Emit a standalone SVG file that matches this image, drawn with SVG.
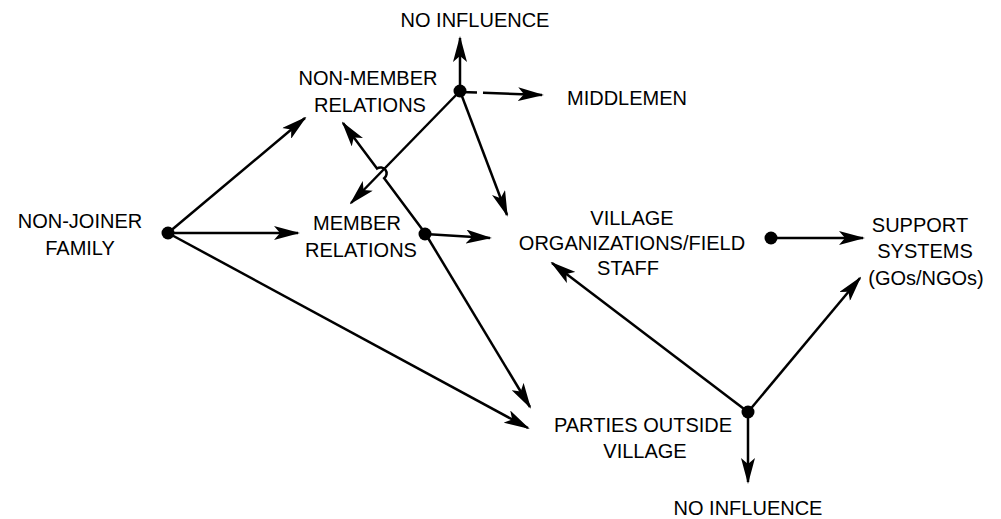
<svg xmlns="http://www.w3.org/2000/svg" width="1001" height="519" viewBox="0 0 1001 519">
  <defs>
    <marker id="arrow" viewBox="0 0 26 14" refX="24" refY="7" markerWidth="26" markerHeight="14" markerUnits="userSpaceOnUse" orient="auto">
      <path d="M0,0 L26,7 L0,14 L6,7 Z" fill="#000"/>
    </marker>
    <style>
      .lbl { font-family: "Liberation Sans", Arial, Helvetica, sans-serif; font-size: 20px; fill: #000; text-anchor: middle; }
      .edge { stroke: #000; stroke-width: 2.5; fill: none; marker-end: url(#arrow); }
      .dot { fill: #000; }
    </style>
  </defs>
  <rect width="1001" height="519" fill="#fff"/>

  <!-- connectors -->
  <g id="connectors">
    <!-- from non-joiner family -->
    <line class="edge" x1="168" y1="233" x2="305" y2="118"/>
    <line class="edge" x1="168" y1="233" x2="298" y2="233"/>
    <line class="edge" x1="168" y1="233" x2="528" y2="428"/>
    <!-- from non-member relations -->
    <line class="edge" x1="460" y1="91" x2="460" y2="38"/>
    <line class="edge" x1="460" y1="92" x2="542" y2="95" stroke-dasharray="17 6 200"/>
    <line class="edge" x1="460" y1="91" x2="351" y2="203"/>
    <line class="edge" x1="460" y1="91" x2="507" y2="215"/>
    <!-- from member relations (hops over the crossing line) -->
    <path class="edge" d="M425,233 L384.2,178.2 A6,6 0 0 0 377,168.6 L343,123"/>
    <line class="edge" x1="425" y1="233" x2="530" y2="407"/>
    <line class="edge" x1="425" y1="234" x2="490" y2="238"/>
    <!-- from village organizations -->
    <line class="edge" x1="771" y1="238" x2="863" y2="238"/>
    <!-- from parties outside village -->
    <line class="edge" x1="748" y1="412" x2="552" y2="263"/>
    <line class="edge" x1="748" y1="412" x2="860" y2="278"/>
    <line class="edge" x1="748" y1="412" x2="748" y2="482"/>
  </g>

  <g id="non-joiner-family">
    <circle class="dot" cx="168" cy="233" r="6.5"/>
    <text class="lbl" x="80" y="228">NON-JOINER</text>
    <text class="lbl" x="80" y="255">FAMILY</text>
  </g>

  <g id="non-member-relations">
    <circle class="dot" cx="460" cy="91" r="6.5"/>
    <text class="lbl" x="368" y="85">NON-MEMBER</text>
    <text class="lbl" x="370" y="112">RELATIONS</text>
  </g>

  <g id="no-influence-top">
    <text class="lbl" x="475" y="27">NO INFLUENCE</text>
  </g>

  <g id="middlemen">
    <text class="lbl" x="567" y="105" style="text-anchor:start">MIDDLEMEN</text>
  </g>

  <g id="member-relations">
    <circle class="dot" cx="425" cy="234" r="6.5"/>
    <text class="lbl" x="357" y="230">MEMBER</text>
    <text class="lbl" x="361" y="257">RELATIONS</text>
  </g>

  <g id="village-organizations">
    <circle class="dot" cx="771" cy="238" r="6.5"/>
    <text class="lbl" x="632" y="225">VILLAGE</text>
    <text class="lbl" x="632" y="250">ORGANIZATIONS/FIELD</text>
    <text class="lbl" x="628" y="275">STAFF</text>
  </g>

  <g id="support-systems">
    <text class="lbl" x="920" y="232">SUPPORT</text>
    <text class="lbl" x="925" y="258">SYSTEMS</text>
    <text class="lbl" x="926" y="285">(GOs/NGOs)</text>
  </g>

  <g id="parties-outside-village">
    <circle class="dot" cx="748" cy="412" r="6.5"/>
    <text class="lbl" x="643" y="432">PARTIES OUTSIDE</text>
    <text class="lbl" x="645" y="458">VILLAGE</text>
  </g>

  <g id="no-influence-bottom">
    <text class="lbl" x="748" y="515">NO INFLUENCE</text>
  </g>
</svg>
